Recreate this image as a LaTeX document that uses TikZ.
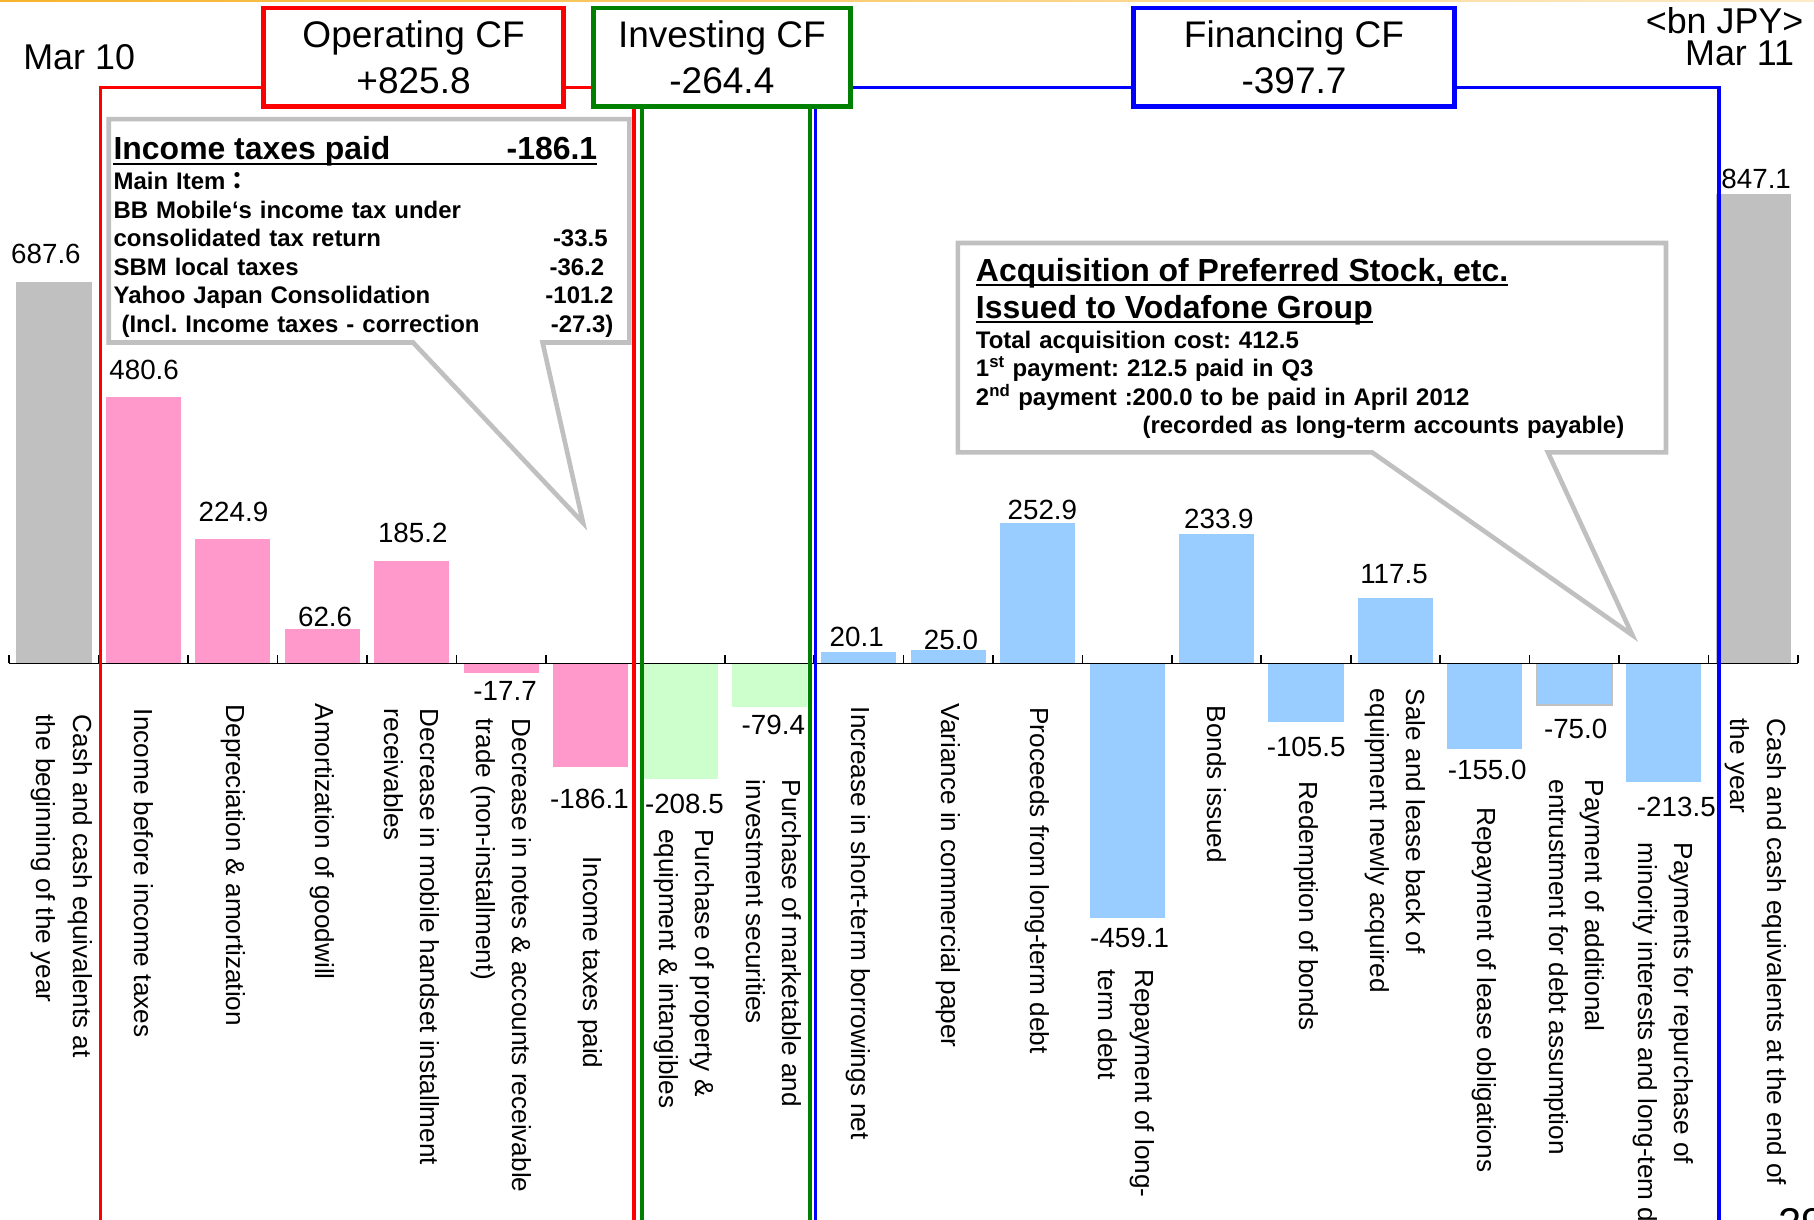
\documentclass[tikz,border=0pt]{standalone}
\usepackage{fontspec}
\setmainfont{Liberation Sans}
\newfontfamily\cjkfont{Noto Sans CJK JP}
\frenchspacing

\definecolor{barGrey}{HTML}{C0C0C0}
\definecolor{barPink}{HTML}{FF99CC}
\definecolor{barGreen}{HTML}{CCFFCC}
\definecolor{barBlue}{HTML}{99CCFF}
\definecolor{opRed}{HTML}{FF0000}
\definecolor{invGreen}{HTML}{008000}
\definecolor{finBlue}{HTML}{0000FF}
\definecolor{topLine}{HTML}{F7B32B}

\newcommand{\catfont}{\fontsize{22.6}{31.5}\selectfont}
\newcommand{\valfont}{\fontsize{24}{28}\selectfont}
\newcommand{\hdrfont}{\fontsize{32}{39}\selectfont}
\newcommand{\ttlfont}{\fontsize{27.6}{33}\selectfont\bfseries}
\newcommand{\boxfont}{\fontsize{20.7}{24.6}\selectfont\bfseries}
\newcommand{\datefont}{\fontsize{31}{31}\selectfont}

\tikzset{
  greybar/.style={fill=barGrey},
  pinkbar/.style={fill=barPink},
  greenbar/.style={fill=barGreen},
  bluebar/.style={fill=barBlue},
  axisline/.style={line width=1.5pt},
  val/.style={font=\valfont, inner sep=0pt, anchor=base},
  cat/.style={font=\catfont, inner sep=0pt, rotate=-90, anchor=north west, align=left},
  opline/.style={draw=opRed, line width=3pt},
  invline/.style={draw=invGreen, line width=3pt},
  finline/.style={draw=finBlue, line width=3pt},
  cfbox/.style={line width=4pt, fill=white, minimum height=85pt, align=center,
    font=\hdrfont, inner sep=0pt},
  callout/.style={draw=barGrey, line width=4pt, fill=white},
  uline/.style={line width=1.6pt},
  date/.style={font=\datefont, inner sep=0pt}
}

\begin{document}
\begin{tikzpicture}[x=1pt,y=-1pt]
  \useasboundingbox (0,0) rectangle (1568,1054);
  \clip (0,0) rectangle (1568,1054);
  \shade[left color=topLine, right color=topLine!25] (0,0) rectangle (1568,1.6);

  % bars, axis at 573.5
  \fill[greybar] (14.2,573.5) rectangle (79.2,244.1);
  \fill[pinkbar] (91.5,573.5) rectangle (156.5,343.3);
  \fill[pinkbar] (168.8,573.5) rectangle (233.8,465.8);
  \fill[pinkbar] (246.1,573.5) rectangle (311.1,543.5);
  \fill[pinkbar] (323.4,573.5) rectangle (388.4,484.8);
  \fill[pinkbar] (400.7,573.5) rectangle (465.7,582.0);
  \fill[pinkbar] (478.0,573.5) rectangle (543.0,662.6);
  \fill[greenbar] (555.3,573.5) rectangle (620.3,673.4);
  \fill[greenbar] (632.6,573.5) rectangle (697.6,611.5);
  \fill[bluebar] (709.9,573.5) rectangle (774.9,563.9);
  \fill[bluebar] (787.2,573.5) rectangle (852.2,561.5);
  \fill[bluebar] (864.5,573.5) rectangle (929.5,452.4);
  \fill[bluebar] (941.8,573.5) rectangle (1006.8,793.4);
  \fill[bluebar] (1019.1,573.5) rectangle (1084.1,461.5);
  \fill[bluebar] (1096.4,573.5) rectangle (1161.4,624.0);
  \fill[bluebar] (1173.7,573.5) rectangle (1238.7,517.2);
  \fill[bluebar] (1251.0,573.5) rectangle (1316.0,647.7);
  \filldraw[bluebar, draw=barGrey, line width=1.2pt] (1328.3,573.5) rectangle (1393.3,609.4);
  \fill[bluebar] (1405.6,573.5) rectangle (1470.6,675.8);
  \fill[greybar] (1482.9,573.5) rectangle (1547.9,167.7);

  \draw[axisline] (8,573.5) -- (1554,573.5);
  \foreach \k in {0,...,20}
    \draw[axisline] ({8+77.3*\k},573.5) -- ++(0,-7);

  % values
  \node[val] (v0) at (39.7,227.6) {687.6};
  \node[val] (v1) at (124.6,328.4) {480.6};
  \node[val] (v2) at (201.8,451) {224.9};
  \node[val] (v3) at (281,541.7) {62.6};
  \node[val] (v4) at (356.8,469) {185.2};
  \node[val] (v5) at (436.6,605.6) {-17.7};
  \node[val] (v6) at (509.5,699) {-186.1};
  \node[val] (v7) at (591.6,703) {-208.5};
  \node[val] (v8) at (668.5,634.6) {-79.4};
  \node[val] (v9) at (740.5,559) {20.1};
  \node[val] (v10) at (822,561) {25.0};
  \node[val] (v11) at (901,449.4) {252.9};
  \node[val] (v12) at (976.4,819) {-459.1};
  \node[val] (v13) at (1053.6,456.6) {233.9};
  \node[val] (v14) at (1129,654) {-105.5};
  \node[val] (v15) at (1205,504) {117.5};
  \node[val] (v16) at (1285.5,673.8) {-155.0};
  \node[val] (v17) at (1362,638) {-75.0};
  \node[val] (v18) at (1449,706) {-213.5};
  \node[val] (v19) at (1518,162.8) {847.1};

  % category names
  \node[cat] (c0) at (80,617.5) {Cash and cash equivalents at\\the beginning of the year};
  \node[cat] (c1) at (132.5,612.5) {Income before income taxes};
  \node[cat] (c2) at (212,609) {Depreciation \& amortization};
  \node[cat] (c3) at (289,608) {Amortization of goodwill};
  \node[cat] (c4) at (380,612.5) {Decrease in mobile handset installment\\receivables};
  \node[cat] (c5) at (460,621) {Decrease in notes \& accounts receivable\\trade (non-installment)};
  \node[cat] (c6) at (521,740) {Income taxes paid};
  \node[cat] (c7) at (618,716.5) {Purchase of property \&\\equipment \& intangibles};
  \node[cat] (c8) at (693,674) {Purchase of marketable and\\investment securities};
  \node[cat] (c9) at (753,610.7) {Increase in short-term borrowings net};
  \node[cat] (c10) at (830,608) {Variance in commercial paper};
  \node[cat] (c11) at (907.6,611.4) {Proceeds from long-term debt};
  \node[cat] (c12) at (998,837.6) {Repayment of long-\\term debt};
  \node[cat] (c13) at (1060,610) {Bonds issued};
  \node[cat] (c14) at (1139.5,675.6) {Redemption of bonds};
  \node[cat] (c15) at (1232.5,595.3) {Sale and lease back of\\equipment newly acquired};
  \node[cat] (c16) at (1294,697.7) {Repayment of lease obligations};
  \node[cat] (c17) at (1387,673.8) {Payment of additional\\entrustment for debt assumption};
  \node[cat] (c18) at (1464.4,728.4) {Payments for repurchase of\\minority interests and long-tem debt};
  \node[cat] (c19) at (1544,621) {Cash and cash equivalents at the end of\\the year};

  % brackets of the three CF groups
  \draw[opline] (87,1060) -- (87,75.5) -- (548,75.5) -- (548,1060);
  \draw[invline] (555,1060) -- (555,75.5) -- (700,75.5) -- (700,1060);
  \draw[finline] (705,1060) -- (705,75.5) -- (1486,75.5) -- (1486,1060);

  % callout on income taxes
  \draw[callout] (94,103) -- (544,103) -- (544,296) -- (469,296) -- (504,452)
    -- (357,296) -- (94,296) -- cycle;
  \node[font=\ttlfont, inner sep=0pt, anchor=base west] (tax) at (98,138)
    {\makebox[418pt][l]{Income taxes paid\hfill-186.1}};
  \draw[uline] ([yshift=-3.5pt]tax.base west) -- ([yshift=-3.5pt]tax.base east);
  \node[font=\boxfont, inner sep=0pt, anchor=base west, text width=432pt, align=left]
    (taxitems) at (98,164) {Main Item{\cjkfont ：}\\
    BB Mobile‘s income tax under\\
    consolidated tax return\hfill-33.5\kern5pt\\
    SBM local taxes\hfill-36.2\kern8pt\\
    Yahoo Japan Consolidation\hfill-101.2\\
    \ (Incl. Income taxes - correction\hfill-27.3)};

  % callout on preferred stock
  \draw[callout] (828,210) -- (1440,210) -- (1440,391) -- (1338,391) -- (1411,549)
    -- (1186,391) -- (828,391) -- cycle;
  \node[font=\ttlfont, inner sep=0pt, anchor=base west] (acq) at (843.4,243.5)
    {Acquisition of Preferred Stock, etc.};
  \draw[uline] ([yshift=-3pt]acq.base west) -- ([yshift=-3pt]acq.base east);
  \node[font=\ttlfont, inner sep=0pt, anchor=base west] (voda) at (843.4,275.5)
    {Issued to Vodafone Group};
  \draw[uline] ([yshift=-3pt]voda.base west) -- ([yshift=-3pt]voda.base east);
  \node[font=\boxfont, inner sep=0pt, anchor=base west, text width=580pt, align=left]
    (acqitems) at (843.4,301) {Total acquisition cost: 412.5\\
    1\textsuperscript{st} payment: 212.5 paid in Q3\\
    2\textsuperscript{nd} payment :200.0 to be paid in April 2012\\
    \hspace*{144pt}(recorded as long-term accounts payable)};

  % group headers
  \node[cfbox, draw=opRed, minimum width=259pt] (op) at (357.5,49.5) {Operating CF\\+825.8};
  \node[cfbox, draw=invGreen, minimum width=222pt] (inv) at (624,49.5) {Investing CF\\-264.4};
  \node[cfbox, draw=finBlue, minimum width=277pt] (fin) at (1118.5,49.5) {Financing CF\\-397.7};

  \node[date, anchor=base west] (mar10) at (20,60.5) {Mar 10};
  \node[date, anchor=base east] (unit) at (1559,29) {<bn JPY>};
  \node[date, anchor=base east] (mar11) at (1551,57) {Mar 11};
  \node[font=\fontsize{36}{36}\selectfont, inner sep=0pt, anchor=north west] (page) at (1537,1044) {29};
\end{tikzpicture}
\end{document}
